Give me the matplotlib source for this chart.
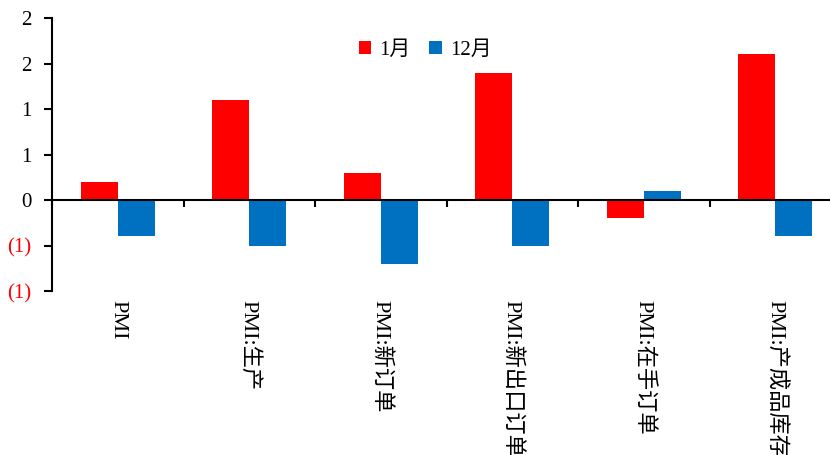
import matplotlib
matplotlib.use("Agg")
from matplotlib import pyplot as plt
from matplotlib import transforms
import numpy as np

plt.rcParams['font.family'] = ['Liberation Serif', 'Noto Sans CJK SC']

categories = ['PMI', 'PMI:生产', 'PMI:新订单', 'PMI:新出口订单', 'PMI:在手订单', 'PMI:产成品库存']
jan = [0.2, 1.1, 0.3, 1.4, -0.2, 1.6]
dec = [-0.4, -0.5, -0.7, -0.5, 0.1, -0.4]
yticks = [-1.0, -0.5, 0.0, 0.5, 1.0, 1.5, 2.0]

red = '#FF0000'
blue = '#0070C0'


def fmt(v):
    r = int(np.floor(abs(v) + 0.5))
    if v < 0:
        return '(%d)' % r
    return '%d' % r


fig = plt.figure(figsize=(8.3, 4.55), dpi=100)
ax = fig.add_axes([52 / 830, (455 - 291) / 455, 6 * 131.5 / 830, 273 / 455])

x = np.arange(len(categories))
w = 0.28
ax.bar(x - w / 2, jan, w, color=red, label='1月')
ax.bar(x + w / 2, dec, w, color=blue, label='12月')

ax.set_xlim(-0.5, len(categories) - 0.5)
ax.set_ylim(-1.0, 2.0)

for s in ['top', 'right']:
    ax.spines[s].set_visible(False)
ax.spines['bottom'].set_position(('data', 0))
ax.spines['bottom'].set_linewidth(1.5)
ax.spines['left'].set_linewidth(1.5)

ax.set_xticks(np.arange(len(categories) + 1) - 0.5)
ax.set_xticklabels([])
ax.tick_params(axis='x', direction='out', length=5, width=1.5)

ax.set_yticks(yticks)
ax.set_yticklabels([fmt(v) for v in yticks], fontsize=15)
ax.tick_params(axis='y', direction='out', length=6, width=1.5, pad=9)
for lab, v in zip(ax.get_yticklabels(), yticks):
    if v < 0:
        lab.set_color(red)

trans = transforms.blended_transform_factory(ax.transData, ax.transAxes)
for i, c in enumerate(categories):
    ax.text(i, -9 / 273, c, transform=trans, rotation=270, ha='center', va='top',
            fontsize=16, clip_on=False)

ax.legend(loc='upper center', bbox_to_anchor=(0.473, 0.985),
          ncol=2, frameon=False, fontsize=15, handlelength=0.6, handleheight=0.6,
          handletextpad=0.4, columnspacing=0.9)

fig.savefig('out.png', dpi=100)
